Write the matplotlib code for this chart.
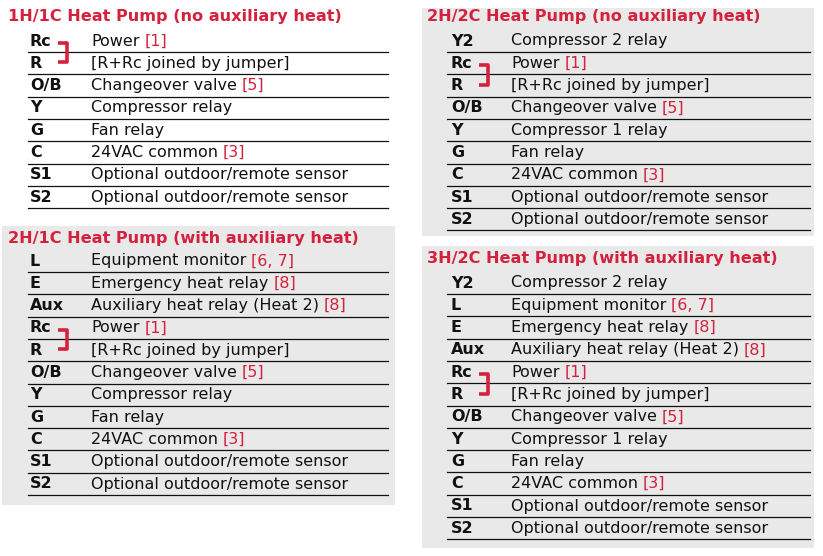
import matplotlib
matplotlib.use("Agg")
import matplotlib.pyplot as plt
from matplotlib.patches import Rectangle

# wiring tables, one per heat pump type
title_1 = "1H/1C Heat Pump (no auxiliary heat)"
keys_1 = ["Rc", "R", "O/B", "Y", "G", "C", "S1", "S2"]
descs_1 = ["Power", "[R+Rc joined by jumper]", "Changeover valve", "Compressor relay",
           "Fan relay", "24VAC common", "Optional outdoor/remote sensor",
           "Optional outdoor/remote sensor"]
notes_1 = ["[1]", "", "[5]", "", "", "[3]", "", ""]

title_2 = "2H/1C Heat Pump (with auxiliary heat)"
keys_2 = ["L", "E", "Aux", "Rc", "R", "O/B", "Y", "G", "C", "S1", "S2"]
descs_2 = ["Equipment monitor", "Emergency heat relay", "Auxiliary heat relay (Heat 2)",
           "Power", "[R+Rc joined by jumper]", "Changeover valve", "Compressor relay",
           "Fan relay", "24VAC common", "Optional outdoor/remote sensor",
           "Optional outdoor/remote sensor"]
notes_2 = ["[6, 7]", "[8]", "[8]", "[1]", "", "[5]", "", "", "[3]", "", ""]

title_3 = "2H/2C Heat Pump (no auxiliary heat)"
keys_3 = ["Y2", "Rc", "R", "O/B", "Y", "G", "C", "S1", "S2"]
descs_3 = ["Compressor 2 relay", "Power", "[R+Rc joined by jumper]", "Changeover valve",
           "Compressor 1 relay", "Fan relay", "24VAC common",
           "Optional outdoor/remote sensor", "Optional outdoor/remote sensor"]
notes_3 = ["", "[1]", "", "[5]", "", "", "[3]", "", ""]

title_4 = "3H/2C Heat Pump (with auxiliary heat)"
keys_4 = ["Y2", "L", "E", "Aux", "Rc", "R", "O/B", "Y", "G", "C", "S1", "S2"]
descs_4 = ["Compressor 2 relay", "Equipment monitor", "Emergency heat relay",
           "Auxiliary heat relay (Heat 2)", "Power", "[R+Rc joined by jumper]",
           "Changeover valve", "Compressor 1 relay", "Fan relay", "24VAC common",
           "Optional outdoor/remote sensor", "Optional outdoor/remote sensor"]
notes_4 = ["", "[6, 7]", "[8]", "[8]", "[1]", "", "[5]", "", "", "[3]", "", ""]

RED = "#d4213d"
GRAY = "#e9e9e9"
ROW_H = 22.3

fig = plt.figure(figsize=(8.23, 5.56), dpi=100)
ax = fig.add_axes([0, 0, 1, 1])
ax.set_xlim(0, 823)
ax.set_ylim(556, 0)
ax.axis("off")


def draw_panel(title, keys, descs, notes, title_xy, key_x, desc_x, y0, line_x, bg=None):
    if bg is not None:
        x, y, w, h = bg
        ax.add_patch(Rectangle((x, y), w, h, facecolor=GRAY, edgecolor="none", zorder=0))
    ax.text(title_xy[0], title_xy[1], title, color=RED, fontsize=11.6, fontweight="bold",
            ha="left", va="center")
    for i, (k, d, n) in enumerate(zip(keys, descs, notes)):
        y = y0 + i * ROW_H
        ax.text(key_x, y, k, fontsize=11.5, fontweight="bold", color="#111111",
                ha="left", va="center")
        t = ax.text(desc_x, y, d, fontsize=11.5, color="#111111", ha="left", va="center")
        if n:
            ax.annotate(n, xy=(1, 0.5), xycoords=t, xytext=(3.5, 0),
                        textcoords="offset points", fontsize=11.5, color=RED,
                        ha="left", va="center")
        ax.plot(line_x, [y + 11, y + 11], color="#111111", lw=0.9)
        # jumper bracket between Rc and R
        if k == "Rc":
            bx = key_x + 28
            ax.plot([bx, bx + 9, bx + 9, bx],
                    [y + 2, y + 2, y + ROW_H - 1, y + ROW_H - 1],
                    color=RED, lw=2.6, solid_joinstyle="round", solid_capstyle="butt")


draw_panel(title_1, keys_1, descs_1, notes_1, (8, 17), 30, 91, 41, [28, 388])
draw_panel(title_2, keys_2, descs_2, notes_2, (8, 238), 30, 91, 261, [28, 388],
           bg=(2, 226, 393, 279))
draw_panel(title_3, keys_3, descs_3, notes_3, (427, 17), 451, 511, 41, [447, 810],
           bg=(422, 8, 392, 228))
draw_panel(title_4, keys_4, descs_4, notes_4, (427, 259), 451, 511, 283, [447, 810],
           bg=(422, 246, 392, 302))

fig.savefig("out.png", dpi=100)
